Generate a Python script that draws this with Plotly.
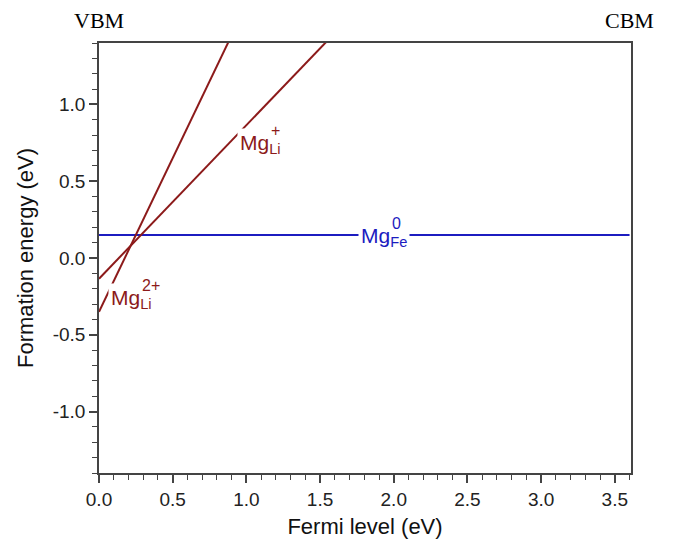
import plotly.graph_objects as go

# Fermi level window (VBM at 0, CBM at the band gap)
fermi_level = [0.0, 3.6]

# Formation energies (eV) at the two ends of the Fermi level window
mg_fe_0 = [0.15, 0.15]        # Mg_Fe, neutral
mg_li_1 = [-0.135, 3.465]     # Mg_Li, charge +1
mg_li_2 = [-0.35, 6.85]       # Mg_Li, charge +2

# Tick values and labels (plain hyphen for negatives)
x_ticks = [0.0, 0.5, 1.0, 1.5, 2.0, 2.5, 3.0, 3.5]
x_tick_text = ["0.0", "0.5", "1.0", "1.5", "2.0", "2.5", "3.0", "3.5"]
y_ticks = [-1.0, -0.5, 0.0, 0.5, 1.0]
y_tick_text = ["-1.0", "-0.5", "0.0", "0.5", "1.0"]

RED = "#8c1a1a"
BLUE = "#1c1cc0"
FONT = "Liberation Sans, Arial, sans-serif"

fig = go.Figure()
for ys, col in [(mg_fe_0, BLUE), (mg_li_1, RED), (mg_li_2, RED)]:
    fig.add_trace(go.Scatter(x=fermi_level, y=ys, mode="lines",
                             line=dict(color=col, width=2), showlegend=False,
                             hoverinfo="skip"))


def defect_label(x, y, sup, sub, color):
    # main text with subscript; white box breaks the line behind it
    fig.add_annotation(x=x, y=y, xref="x", yref="y", text=f"Mg<sub>{sub}</sub>",
                       showarrow=False, xanchor="left", yanchor="middle",
                       bgcolor="white", borderpad=2,
                       font=dict(family=FONT, size=21, color=color))
    # superscript stacked above the subscript
    fig.add_annotation(x=x, y=y, xref="x", yref="y", text=sup,
                       showarrow=False, xanchor="left", yanchor="middle",
                       xshift=32, yshift=13,
                       font=dict(family=FONT, size=16, color=color))


defect_label(0.935, 0.745, "+", "Li", RED)
defect_label(0.06, -0.265, "2+", "Li", RED)
defect_label(1.756, 0.139, "0", "Fe", BLUE)

for txt, xv in [("VBM", fermi_level[0]), ("CBM", fermi_level[1])]:
    fig.add_annotation(x=xv, y=1.0, xref="x", yref="paper", yshift=8,
                       text=txt, showarrow=False, xanchor="center", yanchor="bottom",
                       font=dict(family="Liberation Serif, Times New Roman, serif",
                                 size=22, color="black"))

axis_common = dict(showgrid=False, zeroline=False, showline=True, mirror=True,
                   linecolor="#444", linewidth=1.5, ticks="outside", ticklen=8,
                   tickwidth=1.5, tickcolor="#444", automargin=False,
                   tickfont=dict(family=FONT, size=19, color="#222"),
                   minor=dict(ticks="outside", ticklen=5, tickwidth=1.2,
                              tickcolor="#444", tick0=0, dtick=0.1))

fig.update_xaxes(range=[0, 3.61], tickvals=x_ticks, ticktext=x_tick_text,
                 title=dict(text="Fermi level (eV)", standoff=10,
                            font=dict(family=FONT, size=22, color="#111")),
                 **axis_common)
fig.update_yaxes(range=[-1.4, 1.4], tickvals=y_ticks, ticktext=y_tick_text,
                 title=dict(text="Formation energy (eV)", standoff=13,
                            font=dict(family=FONT, size=22, color="#111")),
                 **axis_common)

fig.update_layout(width=674, height=541, plot_bgcolor="white", paper_bgcolor="white",
                  margin=dict(l=99, r=43, t=43, b=68))

fig.write_html("out.html")
